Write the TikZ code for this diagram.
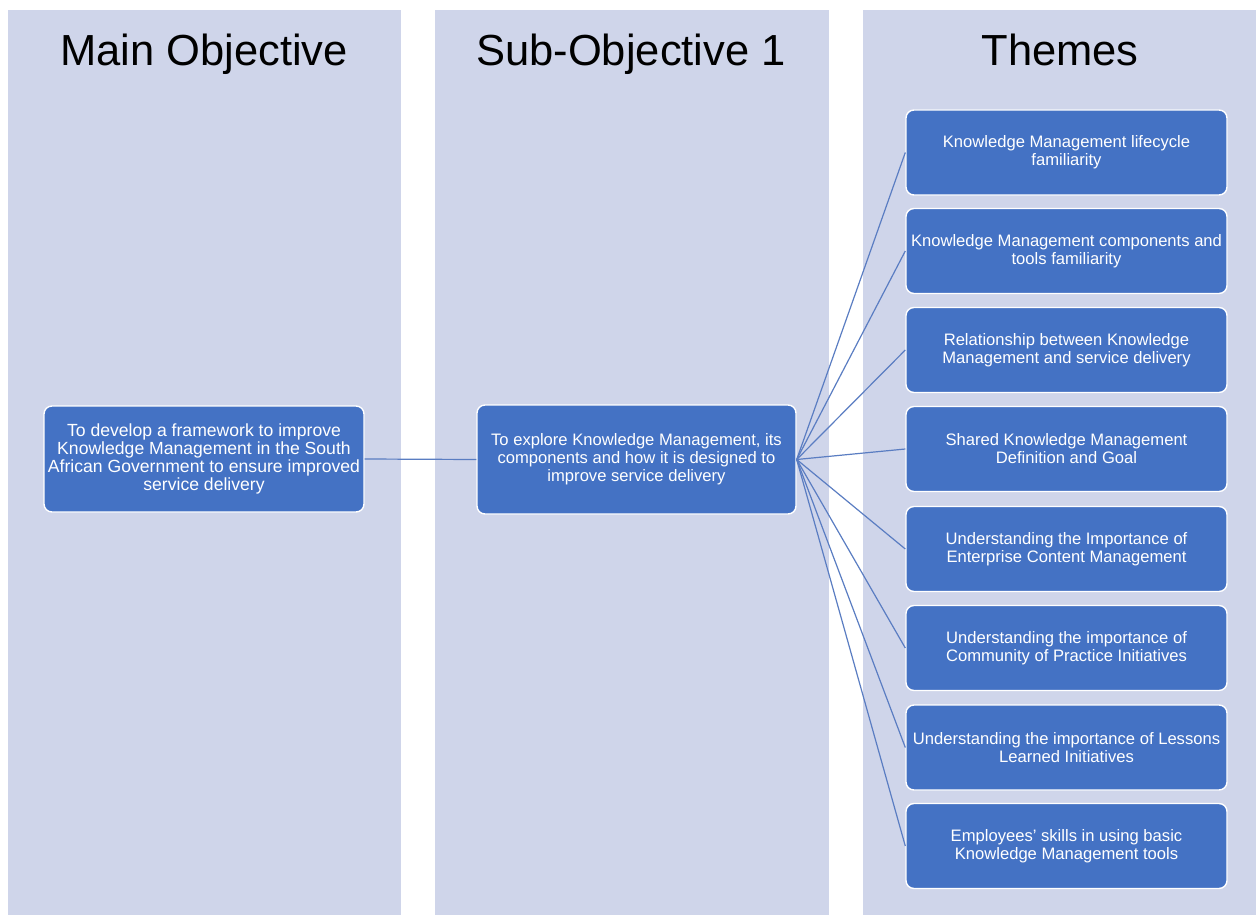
\documentclass[tikz,border=0pt]{standalone}
\usepackage{fontspec}
\setmainfont{Liberation Sans}
\begin{document}
\begin{tikzpicture}[x=1pt,y=-1pt,
  lane/.style={fill=laneblue,draw=none},
  header/.style={font=\fontsize{43.5}{50}\selectfont,text=black,anchor=base},
  card/.style={rectangle,rounded corners=8pt,fill=boxblue,draw=white,line width=1.4pt,
    text=white,align=center,font=\fontsize{16.6}{18}\selectfont,inner sep=0pt},
  link/.style={draw=linkblue,line width=1.2pt}]
\definecolor{laneblue}{HTML}{CFD5EA}
\definecolor{boxblue}{HTML}{4472C4}
\definecolor{linkblue}{HTML}{5A7DC2}
\useasboundingbox (0,0) rectangle (1256,915);
\fill[white] (0,0) rectangle (1256,915);
% three columns
\path[lane] (8,10) rectangle (401,915);
\path[lane] (435,10) rectangle (829,915);
\path[lane] (863,10) rectangle (1256,915);
% column headers
\node[header] (h1) at (204,66) {Main Objective};
\node[header] (h2) at (631,66) {Sub-Objective 1};
\node[header] (h3) at (1060,66) {Themes};
% objectives
\node[card,minimum width=320pt,minimum height=106pt,font=\fontsize{17.6}{18}\selectfont] (main) at (204,459)
  {To develop a framework to improve\\Knowledge Management in the South\\African Government to ensure improved\\service delivery};
\node[card,minimum width=319pt,minimum height=109pt] (sub) at (636.5,459.5)
  {To explore Knowledge Management, its\\components and how it is designed to\\improve service delivery};
% themes
\tikzset{theme/.style={card,minimum width=321pt,minimum height=85pt}}
\node[theme] (t1) at (1066.5,152.5) {Knowledge Management lifecycle\\familiarity};
\node[theme] (t2) at (1066.5,251) {Knowledge Management components and\\tools familiarity};
\node[theme] (t3) at (1066.5,350) {Relationship between Knowledge\\Management and service delivery};
\node[theme] (t4) at (1066.5,449) {Shared Knowledge Management\\Definition and Goal};
\node[theme] (t5) at (1066.5,549) {Understanding the Importance of\\Enterprise Content Management};
\node[theme] (t6) at (1066.5,648) {Understanding the importance of\\Community of Practice Initiatives};
\node[theme] (t7) at (1066.5,747.5) {Understanding the importance of Lessons\\Learned Initiatives};
\node[theme] (t8) at (1066.5,846) {Employees' skills in using basic\\Knowledge Management tools};
% connectors
\draw[link] (main.east) -- (sub.west);
\foreach \t in {t1,t2,t3,t4,t5,t6,t7,t8}
  \draw[link] (sub.east) -- (\t.west);
\end{tikzpicture}
\end{document}
